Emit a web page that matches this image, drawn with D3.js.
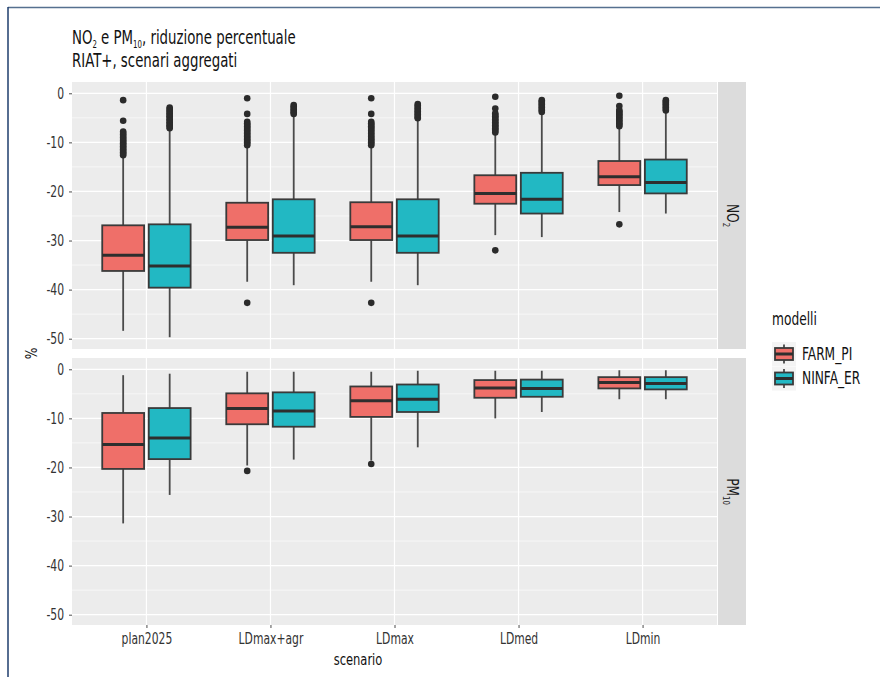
<!DOCTYPE html>
<html>
<head>
<meta charset="utf-8">
<script src="https://cdn.jsdelivr.net/npm/d3@7"></script>
<style>
  html, body { margin: 0; padding: 0; background: #ffffff; }
  svg { display: block; }
  text { font-family: "DejaVu Sans Condensed", "DejaVu Sans", sans-serif; }
</style>
</head>
<body>
<svg id="chart" width="880" height="677"></svg>
<script>
// Scenarios on the x axis, the two air-quality models, and the two pollutant facets
const scenarios = ["plan2025", "LDmax+agr", "LDmax", "LDmed", "LDmin"];
const models = ["FARM_PI", "NINFA_ER"];
const facets = ["NO2", "PM10"];
const yTicks = [0, -10, -20, -30, -40, -50];
const yMinor = [-5, -15, -25, -35, -45];

// Box statistics per scenario: [lower whisker, Q1, median, Q3, upper whisker]
const no2Farm = [
  [-48.4, -36.2, -33.0, -26.9, -12.8],
  [-38.4, -29.9, -27.3, -22.3, -10.9],
  [-38.4, -29.9, -27.2, -22.2, -10.9],
  [-28.9, -22.5, -20.4, -16.7, -8.2],
  [-24.2, -18.7, -17.0, -13.8, -7.0]
];
const no2Ninfa = [
  [-49.7, -39.6, -35.2, -26.7, -7.4],
  [-39.1, -32.5, -29.1, -21.6, -4.6],
  [-39.1, -32.5, -29.1, -21.6, -5.4],
  [-29.3, -24.5, -21.6, -16.2, -4.0],
  [-24.5, -20.4, -18.2, -13.5, -3.7]
];
const pm10Farm = [
  [-31.4, -20.3, -15.3, -8.9, -1.2],
  [-19.6, -11.2, -8.0, -4.9, -0.5],
  [-18.6, -9.7, -6.4, -3.5, -0.5],
  [-10.0, -5.8, -3.8, -2.2, -0.3],
  [-6.1, -3.9, -2.7, -1.6, -0.2]
];
const pm10Ninfa = [
  [-25.6, -18.3, -14.0, -7.9, -0.9],
  [-18.4, -11.7, -8.5, -4.7, -0.5],
  [-15.9, -8.7, -6.1, -3.1, -0.3],
  [-8.7, -5.6, -3.9, -2.1, -0.3],
  [-6.1, -4.1, -2.9, -1.6, -0.2]
];

// Outlying values per scenario
const no2FarmOut = [
  [-1.4, -5.6, -7.8, -8.1, -8.4, -8.7, -9.0, -9.3, -9.6, -9.9, -10.2, -10.5, -10.8, -11.1, -11.4, -11.7, -12.0, -12.3, -12.6],
  [-1.0, -4.2, -5.8, -6.1, -6.4, -6.7, -7.0, -7.3, -7.6, -7.9, -8.2, -8.5, -8.8, -9.1, -9.4, -9.7, -10.0, -10.3, -10.6, -42.7],
  [-1.0, -4.2, -5.8, -6.1, -6.4, -6.7, -7.0, -7.3, -7.6, -7.9, -8.2, -8.5, -8.8, -9.1, -9.4, -9.7, -10.0, -10.3, -10.6, -42.7],
  [-0.7, -3.1, -4.1, -4.4, -4.7, -5.0, -5.3, -5.6, -5.9, -6.2, -6.5, -6.8, -7.1, -7.4, -7.7, -8.0, -32.0],
  [-0.5, -2.6, -3.4, -3.7, -4.0, -4.3, -4.6, -4.9, -5.2, -5.5, -5.8, -6.1, -6.4, -6.7, -26.7]
];
const no2NinfaOut = [
  [-2.9, -3.2, -3.5, -3.8, -4.1, -4.4, -4.7, -5.0, -5.3, -5.6, -5.9, -6.2, -6.5, -6.8, -7.1],
  [-2.4, -2.7, -3.0, -3.3, -3.6, -3.9, -4.2],
  [-2.2, -2.5, -2.8, -3.1, -3.4, -3.7, -4.0, -4.3, -4.6, -4.9, -5.1],
  [-1.4, -1.7, -2.0, -2.3, -2.6, -2.9, -3.2, -3.5, -3.8],
  [-1.4, -1.7, -2.0, -2.3, -2.6, -2.9, -3.2, -3.5]
];
const pm10FarmOut = [[], [-20.7], [-19.3], [], []];
const pm10NinfaOut = [[], [], [], [], []];

const colors = ["#ef6f69", "#22b8c3"];

const statsBy = { NO2: [no2Farm, no2Ninfa], PM10: [pm10Farm, pm10Ninfa] };
const outBy = { NO2: [no2FarmOut, no2NinfaOut], PM10: [pm10FarmOut, pm10NinfaOut] };

// Squeeze a text horizontally around its anchor point to get a narrow typeface look
function narrow(sel, sx) {
  sel.each(function () {
    const t = d3.select(this);
    const x0 = +t.attr("x") || 0, y0 = +t.attr("y") || 0;
    const prev = t.attr("transform") || "";
    t.attr("transform", `${prev} translate(${x0},${y0}) scale(${sx},1) translate(${-x0},${-y0})`);
  });
}

const svg = d3.select("#chart");

// Page frame
svg.append("line").attr("x1", 8).attr("x2", 880).attr("y1", 7.5).attr("y2", 7.5)
  .attr("stroke", "#56708f").attr("stroke-width", 1.5);
svg.append("line").attr("x1", 8).attr("x2", 8).attr("y1", 7).attr("y2", 677)
  .attr("stroke", "#1e3d6c").attr("stroke-width", 1.5);

// Layout of the two stacked panels
const panelLeft = 72, panelRight = 717;
const panelTops = { NO2: 82, PM10: 358 };
const panelH = 267;
const stripW = 28;

const x = d3.scalePoint().domain(scenarios).range([panelLeft, panelRight]).padding(0.6);
const dodge = d3.scaleBand().domain(models)
  .range([-0.375 * x.step(), 0.375 * x.step()])
  .paddingInner(0.1).paddingOuter(0.05);

// Title
const title = svg.append("text").attr("x", 72).attr("y", 44)
  .attr("font-size", 19).attr("fill", "#111");
title.append("tspan").text("NO");
title.append("tspan").attr("font-size", 10).attr("dy", 4).text("2");
title.append("tspan").attr("dy", -4).text(" e PM");
title.append("tspan").attr("font-size", 10).attr("dy", 4).text("10");
title.append("tspan").attr("dy", -4).text(", riduzione percentuale");
narrow(title, 0.78);
narrow(svg.append("text").attr("x", 72).attr("y", 67)
  .attr("font-size", 19).attr("fill", "#111").text("RIAT+, scenari aggregati"), 0.78);

facets.forEach(f => {
  const top = panelTops[f];
  const y = d3.scaleLinear().domain([-52.1, 2.3]).range([top + panelH, top]);
  const g = svg.append("g");

  // Panel background and grid
  g.append("rect").attr("x", panelLeft).attr("y", top)
    .attr("width", panelRight - panelLeft).attr("height", panelH).attr("fill", "#ececec");
  g.selectAll(".minor").data(yMinor).join("line")
    .attr("x1", panelLeft).attr("x2", panelRight)
    .attr("y1", d => y(d)).attr("y2", d => y(d))
    .attr("stroke", "#ffffff").attr("stroke-width", 0.6);
  g.selectAll(".major").data(yTicks).join("line")
    .attr("x1", panelLeft).attr("x2", panelRight)
    .attr("y1", d => y(d)).attr("y2", d => y(d))
    .attr("stroke", "#ffffff").attr("stroke-width", 1.2);
  g.selectAll(".vmajor").data(scenarios).join("line")
    .attr("x1", d => x(d)).attr("x2", d => x(d))
    .attr("y1", top).attr("y2", top + panelH)
    .attr("stroke", "#ffffff").attr("stroke-width", 1.2);

  // Y axis
  const yAxis = g.append("g").attr("transform", `translate(${panelLeft},0)`)
    .call(d3.axisLeft(y).tickValues(yTicks).tickSize(3).tickPadding(5).tickFormat(d => String(d)));
  yAxis.select(".domain").remove();
  yAxis.selectAll("line").attr("stroke", "#4d4d4d");
  yAxis.selectAll("text").attr("font-size", 15).attr("fill", "#333");
  narrow(yAxis.selectAll("text"), 0.8);

  // Boxplots
  models.forEach((m, mi) => {
    const stats = statsBy[f][mi];
    const outs = outBy[f][mi];
    scenarios.forEach((s, si) => {
      const [lo, q1, med, q3, hi] = stats[si];
      const cx = x(s) + dodge(m) + dodge.bandwidth() / 2;
      const bx = x(s) + dodge(m);
      const bw = dodge.bandwidth();
      const b = g.append("g");
      b.append("line").attr("x1", cx).attr("x2", cx).attr("y1", y(hi)).attr("y2", y(q3))
        .attr("stroke", "#4a4a4a").attr("stroke-width", 1.8);
      b.append("line").attr("x1", cx).attr("x2", cx).attr("y1", y(q1)).attr("y2", y(lo))
        .attr("stroke", "#4a4a4a").attr("stroke-width", 1.8);
      b.append("rect").attr("x", bx).attr("y", y(q3)).attr("width", bw).attr("height", y(q1) - y(q3))
        .attr("fill", colors[mi]).attr("stroke", "#3a3a3a").attr("stroke-width", 1.8);
      b.append("line").attr("x1", bx).attr("x2", bx + bw).attr("y1", y(med)).attr("y2", y(med))
        .attr("stroke", "#2e2e2e").attr("stroke-width", 3);
      b.selectAll("circle").data(outs[si]).join("circle")
        .attr("cx", cx).attr("cy", d => y(d)).attr("r", 3.3).attr("fill", "#2b2b2b");
    });
  });

  // Facet strip on the right
  g.append("rect").attr("x", panelRight + 1).attr("y", top).attr("width", stripW).attr("height", panelH)
    .attr("fill", "#dcdcdc");
  const st = g.append("text")
    .attr("transform", `translate(${panelRight + 1 + stripW / 2 - 5},${top + panelH / 2}) rotate(90) scale(0.85,1)`)
    .attr("text-anchor", "middle").attr("font-size", 16).attr("fill", "#1a1a1a");
  if (f === "NO2") {
    st.append("tspan").text("NO");
    st.append("tspan").attr("font-size", 9).attr("dy", 4).text("2");
  } else {
    st.append("tspan").text("PM");
    st.append("tspan").attr("font-size", 9).attr("dy", 4).text("10");
  }
});

// X axis under the lower panel
const xBottom = panelTops.PM10 + panelH;
const xAxis = svg.append("g").attr("transform", `translate(0,${xBottom})`)
  .call(d3.axisBottom(x).tickSize(3).tickPadding(5));
xAxis.select(".domain").remove();
xAxis.selectAll("line").attr("stroke", "#4d4d4d");
xAxis.selectAll("text").attr("font-size", 15).attr("fill", "#333");
narrow(xAxis.selectAll("text"), 0.8);

// Axis titles
narrow(svg.append("text").attr("x", 358).attr("y", 665)
  .attr("text-anchor", "middle").attr("font-size", 16).attr("fill", "#111").text("scenario"), 0.8);
svg.append("text").attr("transform", `translate(37,${(panelTops.NO2 + panelTops.PM10 + panelH) / 2}) rotate(-90) scale(0.85,1)`)
  .attr("text-anchor", "middle").attr("font-size", 16).attr("fill", "#111").text("%");

// Legend
const lg = svg.append("g").attr("transform", "translate(772,0)");
narrow(lg.append("text").attr("x", 0).attr("y", 325).attr("font-size", 17).attr("fill", "#111").text("modelli"), 0.8);
models.forEach((m, i) => {
  const ky = 342 + i * 24.5, ks = 24;
  const k = lg.append("g").attr("transform", `translate(0,${ky})`);
  k.append("rect").attr("width", ks).attr("height", ks).attr("fill", "#f4f4f4");
  k.append("line").attr("x1", ks / 2).attr("x2", ks / 2).attr("y1", ks * 0.1).attr("y2", ks * 0.9)
    .attr("stroke", "#4a4a4a").attr("stroke-width", 1.8);
  k.append("rect").attr("x", ks * 0.125).attr("y", ks * 0.25).attr("width", ks * 0.75).attr("height", ks * 0.5)
    .attr("fill", colors[i]).attr("stroke", "#3a3a3a").attr("stroke-width", 1.8);
  k.append("line").attr("x1", ks * 0.125).attr("x2", ks * 0.875).attr("y1", ks / 2).attr("y2", ks / 2)
    .attr("stroke", "#2e2e2e").attr("stroke-width", 3);
  narrow(lg.append("text").attr("x", ks + 6).attr("y", ky + ks / 2 + 6).attr("font-size", 17)
    .attr("fill", "#111").text(m), 0.8);
});
</script>
</body>
</html>
